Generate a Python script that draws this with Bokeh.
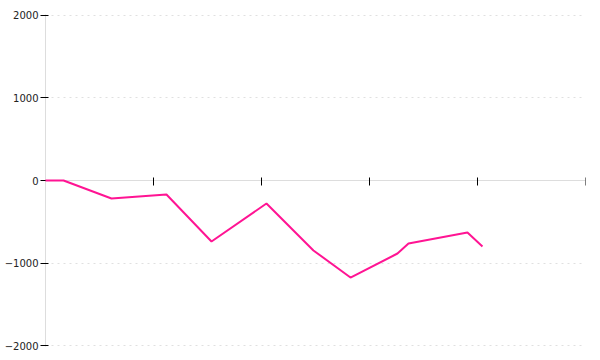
from bokeh.plotting import figure
from bokeh.models import Range1d, FixedTicker
from bokeh.embed import file_html
from bokeh.resources import INLINE

x_vals = [0.0, 0.167, 0.611, 1.12, 1.537, 2.046, 2.481, 2.824, 3.259, 3.361, 3.907, 4.046]
y_vals = [0, 0, -218, -170, -739, -279, -848, -1176, -885, -764, -630, -800]
y_ticks = [-2000, -1000, 0, 1000, 2000]
x_ticks = [0, 1, 2, 3, 4, 5]

p = figure(width=600, height=360, output_backend="svg", toolbar_location=None,
           x_range=Range1d(0, 5), y_range=Range1d(-2012.12, 2012.12),
           min_border_left=45, min_border_right=15, min_border_top=14, min_border_bottom=14)
p.outline_line_color = None
p.background_fill_color = "white"
p.border_fill_color = "white"

r = p.line(x_vals, y_vals, line_color="#ff1493", line_width=2)
r.level = "annotation"

# x axis fixed at y=0
xa = p.xaxis[0]
xa.fixed_location = 0
xa.ticker = FixedTicker(ticks=x_ticks)
xa.major_label_text_font_size = "0px"
xa.major_label_text_color = None
xa.axis_line_color = "#dddddd"
xa.major_tick_line_color = "black"
xa.major_tick_in = 3
xa.major_tick_out = 5
xa.minor_tick_line_color = None

ya = p.yaxis[0]
ya.ticker = FixedTicker(ticks=y_ticks)
ya.axis_line_color = "#dddddd"
ya.major_tick_line_color = "black"
ya.major_tick_in = 3
ya.major_tick_out = 5
ya.minor_tick_line_color = None
ya.major_label_text_font = "DejaVu Sans"
ya.major_label_text_font_size = "10px"
ya.major_label_text_color = "#222222"
ya.major_label_standoff = 2

p.xgrid.grid_line_color = None
p.ygrid.ticker = FixedTicker(ticks=[-2000, -1000, 1000, 2000])
p.ygrid.grid_line_color = "#e0e0e0"
p.ygrid.grid_line_dash = "2 4"

open("out.html", "w").write(file_html(p, INLINE))
